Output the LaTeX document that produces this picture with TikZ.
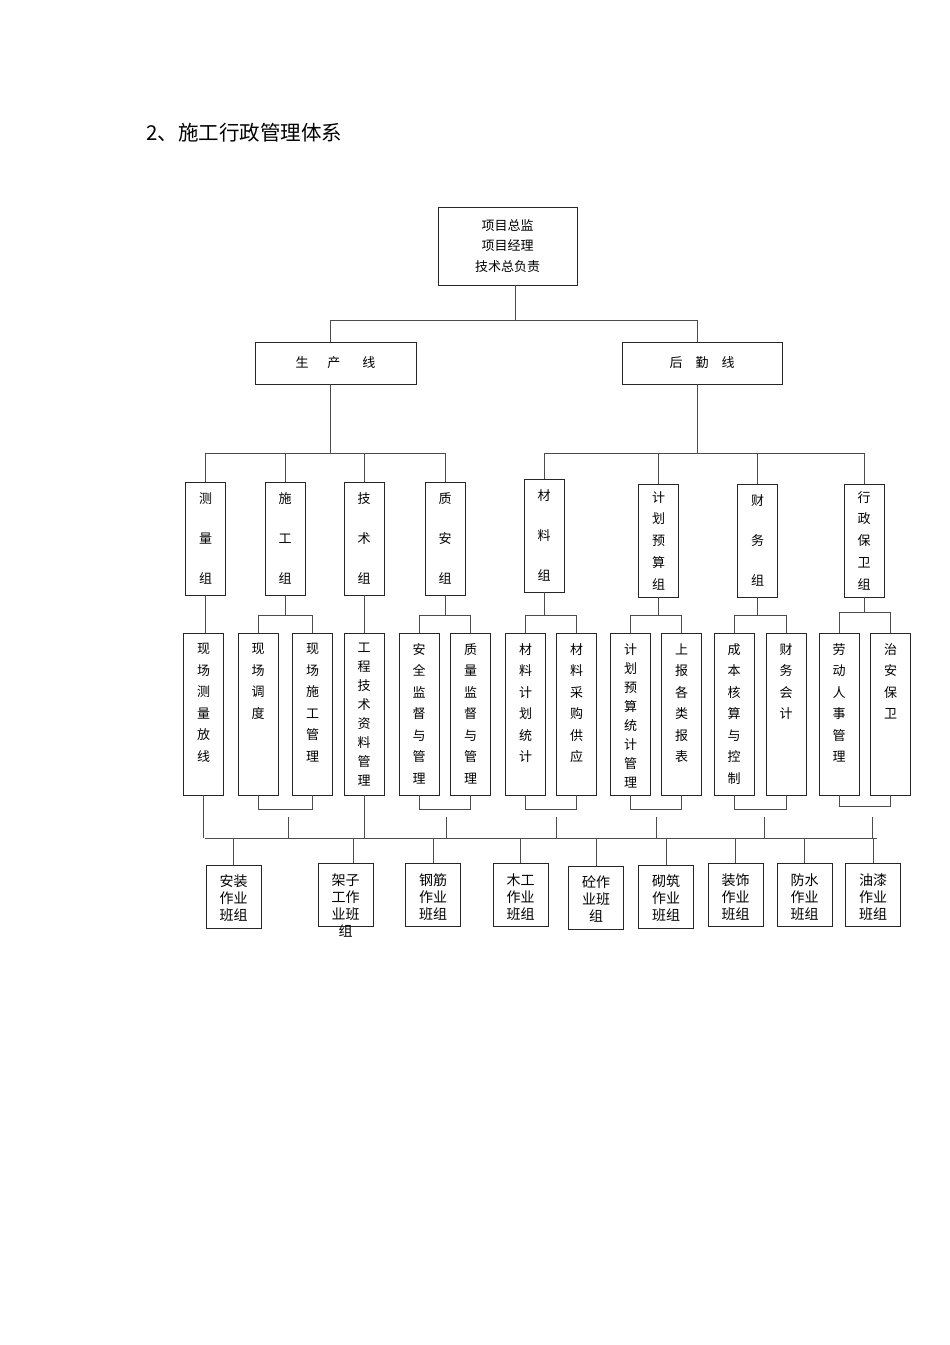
\documentclass[tikz,border=0pt]{standalone}
\usepackage{fontspec}
\newfontfamily\cjk{Noto Sans CJK SC}
\usetikzlibrary{calc}
% column text hanging from the top of a box
\newcommand{\colbox}[1]{\parbox[c][162pt][t]{40pt}{\centering\vspace*{10.5pt}#1}}
\newcommand{\teambox}[1]{\parbox[c][63pt][t]{55pt}{\centering\vspace*{10pt}#1}}

\begin{document}
\begin{tikzpicture}[
  x=1pt, y=-1pt,
  font=\cjk\fontsize{13}{20.5}\selectfont,
  box/.style={draw=black!85, line width=0.9pt, align=center, inner sep=0pt},
  grp/.style={box, minimum width=40pt, minimum height=113pt, font=\cjk\fontsize{13}{40}\selectfont},
  grpl/.style={grp, font=\cjk\fontsize{13}{21.75}\selectfont},
  task/.style={box, font=\cjk\fontsize{13}{21.5}\selectfont},
  taskl/.style={box, font=\cjk\fontsize{13}{19}\selectfont},
  team/.style={box, font=\cjk\fontsize{14}{17}\selectfont},
  link/.style={draw=black!70, line width=0.9pt}
]
\useasboundingbox (0,0) rectangle (950,1345);

\node[anchor=west, font=\cjk\fontsize{20.5}{24}\selectfont] (title) at (143,133) {2、施工行政管理体系};

\node[box, minimum width=139pt, minimum height=78pt] (head) at (507.5,246)
  {项目总监\\项目经理\\技术总负责};
\node[box, minimum width=161pt, minimum height=42pt] (prod) at (335.5,363)
  {生\hspace{19pt}产\hspace{22pt}线};
\node[box, minimum width=160pt, minimum height=42pt] (logi) at (702,363)
  {后\hspace{13pt}勤\hspace{13pt}线};

\node[grp] (survey) at (205.5,538.5) {测\\量\\组};
\node[grp] (build) at (285,538.5) {施\\工\\组};
\node[grp] (tech) at (364,538.5) {技\\术\\组};
\node[grp] (qsafe) at (445,538.5) {质\\安\\组};
\node[grp] (mat) at (544,535.5) {材\\料\\组};
\node[grpl] (plan) at (658.5,540.5) {计\\划\\预\\算\\组};
\node[grp] (fin) at (757.5,540.5) {财\\务\\组};
\node[grpl] (admin) at (864,540.5) {行\\政\\保\\卫\\组};

\node[task] (t1) at (203.5,714) {\colbox{现\\场\\测\\量\\放\\线}};
\node[task] (t2) at (258,714) {\colbox{现\\场\\调\\度}};
\node[task] (t3) at (312.5,714) {\colbox{现\\场\\施\\工\\管\\理}};
\node[taskl] (t4) at (364,714) {\colbox{工\\程\\技\\术\\资\\料\\管\\理}};
\node[task] (t5) at (419,714) {\colbox{安\\全\\监\\督\\与\\管\\理}};
\node[task] (t6) at (470.5,714) {\colbox{质\\量\\监\\督\\与\\管\\理}};
\node[task] (t7) at (525.5,714) {\colbox{材\\料\\计\\划\\统\\计}};
\node[task] (t8) at (576.5,714) {\colbox{材\\料\\采\\购\\供\\应}};
\node[taskl] (t9) at (630.5,714) {\colbox{计\\划\\预\\算\\统\\计\\管\\理}};
\node[task] (t10) at (681.5,714) {\colbox{上\\报\\各\\类\\报\\表}};
\node[task] (t11) at (734,714) {\colbox{成\\本\\核\\算\\与\\控\\制}};
\node[task] (t12) at (786,714) {\colbox{财\\务\\会\\计}};
\node[task] (t13) at (839,714) {\colbox{劳\\动\\人\\事\\管\\理}};
\node[task] (t14) at (890.5,714) {\colbox{治\\安\\保\\卫}};

\node[team] (w1) at (233.5,896.5) {\teambox{安装\\作业\\班组}};
\node[team] (w2) at (345.5,895) {\teambox{架子\\工作\\业班\\组}};
\node[team] (w3) at (433,895) {\teambox{钢筋\\作业\\班组}};
\node[team] (w4) at (520.5,895) {\teambox{木工\\作业\\班组}};
\node[team] (w5) at (596,897.5) {\teambox{砼作\\业班\\组}};
\node[team] (w6) at (666,896.5) {\teambox{砌筑\\作业\\班组}};
\node[team] (w7) at (735.5,895) {\teambox{装饰\\作业\\班组}};
\node[team] (w8) at (804.5,895) {\teambox{防水\\作业\\班组}};
\node[team] (w9) at (873,895) {\teambox{油漆\\作业\\班组}};

% head to the two lines
\draw[link] ([xshift=7.5pt]head.south) -- ++(0,35) coordinate (j1);
\draw[link] ([xshift=-5.5pt]prod.north) |- (j1) -| ([xshift=-5pt]logi.north);

% lines to groups
\draw[link] ([xshift=-5.5pt]prod.south) -- ++(0,69) coordinate (j2);
\draw[link] (survey.north) |- (j2) -| (qsafe.north);
\draw[link] (build.north) -- (build.north |- j2);
\draw[link] (tech.north) -- (tech.north |- j2);
\draw[link] ([xshift=-5pt]logi.south) -- ++(0,69) coordinate (j3);
\draw[link] (mat.north) |- (j3) -| (admin.north);
\draw[link] (plan.north) -- (plan.north |- j3);
\draw[link] (fin.north) -- (fin.north |- j3);

% groups to tasks
\draw[link] (survey.south) -- (survey.south |- t1.north);
\draw[link] (tech.south) -- (t4.north);
\draw[link] (t2.north) -- ++(0,-17) coordinate (s2) -| (t3.north);
\draw[link] (build.south) -- (build.south |- s2);
\draw[link] (t5.north) -- ++(0,-17) coordinate (s5) -| (t6.north);
\draw[link] (qsafe.south) -- (qsafe.south |- s5);
\draw[link] (t7.north) -- ++(0,-17) coordinate (s7) -| (t8.north);
\draw[link] (mat.south) -- (mat.south |- s7);
\draw[link] (t9.north) -- ++(0,-17) coordinate (s9) -| (t10.north);
\draw[link] (plan.south) -- (plan.south |- s9);
\draw[link] (t11.north) -- ++(0,-17) coordinate (s11) -| (t12.north);
\draw[link] (fin.south) -- (fin.south |- s11);
\draw[link] (t13.north) -- ++(0,-20) coordinate (s13) -| (t14.north);
\draw[link] (admin.south) -- (admin.south |- s13);

% bottom brackets
\draw[link] (t2.south) -- ++(0,14) -| (t3.south);
\draw[link] (t5.south) -- ++(0,14) -| (t6.south);
\draw[link] (t7.south) -- ++(0,14) -| (t8.south);
\draw[link] (t9.south) -- ++(0,14) -| (t10.south);
\draw[link] (t11.south) -- ++(0,14) -| (t12.south);
\draw[link] (t13.south) -- ++(0,11) -| (t14.south);

% bus to the work teams
\coordinate (busL) at (205,838);
\coordinate (busR) at (877,838);
\draw[link] (busL) -- (busR);
\draw[link] (t1.south) -- (t1.south |- busL);
\draw[link] (t4.south) -- (t4.south |- busL);
\draw[link] ($(t2.south)!0.5!(t3.south)+(3,22)$) -- ++(0,21);
\draw[link] ($(t5.south)!0.5!(t6.south)+(2,22)$) -- ++(0,21);
\draw[link] ($(t7.south)!0.5!(t8.south)+(5,22)$) -- ++(0,21);
\draw[link] ($(t9.south)!0.5!(t10.south)+(0,22)$) -- ++(0,21);
\draw[link] ($(t11.south)!0.5!(t12.south)+(4,22)$) -- ++(0,21);
\draw[link] ($(t13.south)!0.5!(t14.south)+(8,22)$) -- ++(0,21);

\draw[link] (w1.north) -- (w1.north |- busL);
\draw[link] ([xshift=7.5pt]w2.north) -- ([xshift=7.5pt]w2.north |- busL);
\draw[link] (w3.north) -- (w3.north |- busL);
\draw[link] (w4.north) -- (w4.north |- busL);
\draw[link] (w5.north) -- (w5.north |- busL);
\draw[link] (w6.north) -- (w6.north |- busL);
\draw[link] (w7.north) -- (w7.north |- busL);
\draw[link] (w8.north) -- (w8.north |- busL);
\draw[link] (w9.north) -- (w9.north |- busL);
\end{tikzpicture}
\end{document}
